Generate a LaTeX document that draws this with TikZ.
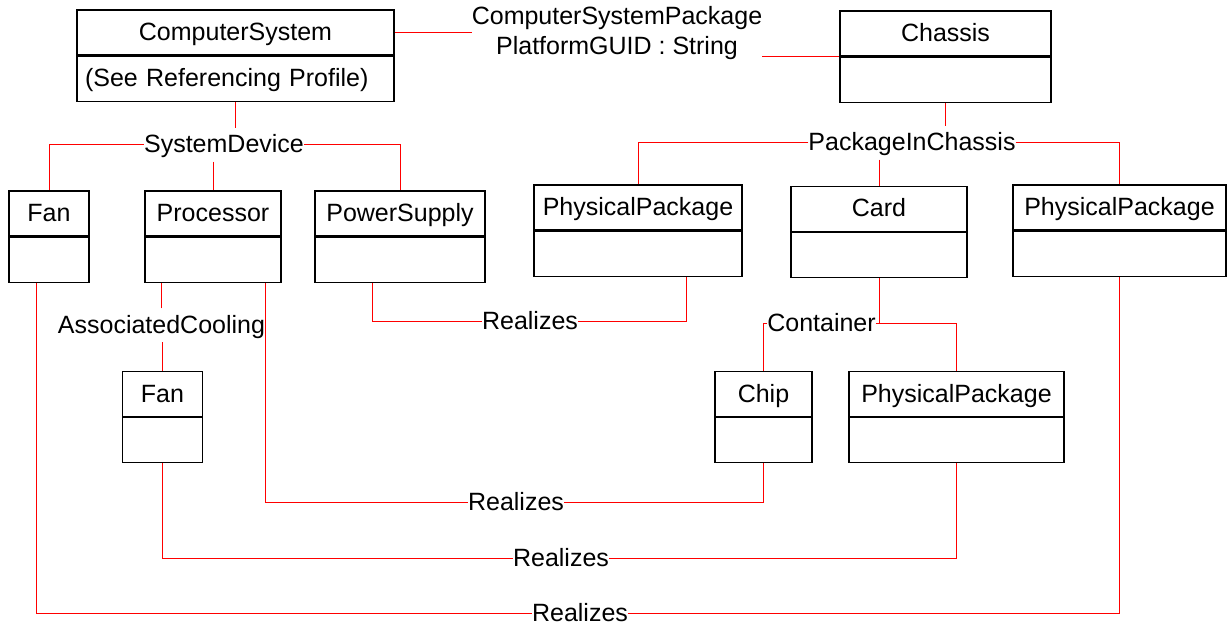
\documentclass[tikz,border=0pt]{standalone}
\usepackage{fontspec}
\setmainfont{Liberation Sans}
\usetikzlibrary{positioning}
\tikzset{
	classhead/.style={
		draw,
		rectangle,
		line width=1.3pt,
		minimum height=45pt,
		inner sep=0pt,
		text height=18pt,
		text depth=2pt,
		font=\fontsize{25}{30}\selectfont
	},
	classbody/.style={
		draw,
		rectangle,
		line width=1.3pt,
		minimum height=45pt,
		inner sep=0pt,
		text height=18pt,
		text depth=2pt,
		font=\fontsize{25}{30}\selectfont
	},
	rolelabel/.style={
		inner xsep=0pt,
		inner ysep=6.5pt,
		text height=18pt,
		text depth=2pt,
		font=\fontsize{25}{30}\selectfont
	},
	assoc/.style={
		draw=red,
		line width=1pt
	}
}

\begin{document}
\begin{tikzpicture}[x=1pt,y=-1pt]
	\useasboundingbox (0,0) rectangle (1227,623);

	% classes
	\draw node[classhead, minimum width=317pt] (cs) at (235.5,32.5) {ComputerSystem};
	\draw node[classbody, below=0pt of cs, text width=301pt, inner xsep=8pt, align=left] (csb) {(See Referencing Profile)};
	\draw node[classhead, minimum width=211pt] (ch) at (945.5,33.5) {Chassis};
	\draw node[classbody, minimum width=211pt, below=0pt of ch] (chb) {};
	\draw node[classhead, minimum width=80pt] (fan1) at (49,213.5) {Fan};
	\draw node[classbody, minimum width=80pt, below=0pt of fan1] (fan1b) {};
	\draw node[classhead, minimum width=136pt] (proc) at (213,213.5) {Processor};
	\draw node[classbody, minimum width=136pt, below=0pt of proc] (procb) {};
	\draw node[classhead, minimum width=170pt] (ps) at (400,213.5) {PowerSupply};
	\draw node[classbody, minimum width=170pt, below=0pt of ps] (psb) {};
	\draw node[classhead, minimum width=208pt] (pp1) at (638,207.5) {PhysicalPackage};
	\draw node[classbody, minimum width=208pt, below=0pt of pp1] (pp1b) {};
	\draw node[classhead, minimum width=176pt] (card) at (879,209) {Card};
	\draw node[classbody, minimum width=176pt, below=0pt of card] (cardb) {};
	\draw node[classhead, minimum width=213pt] (pp2) at (1119.5,207.5) {PhysicalPackage};
	\draw node[classbody, minimum width=213pt, below=0pt of pp2] (pp2b) {};
	\draw node[classhead, minimum width=80pt] (fan2) at (162.5,394) {Fan};
	\draw node[classbody, minimum width=80pt, below=0pt of fan2] (fan2b) {};
	\draw node[classhead, minimum width=97pt] (chip) at (763.5,394) {Chip};
	\draw node[classbody, minimum width=97pt, below=0pt of chip] (chipb) {};
	\draw node[classhead, minimum width=215pt] (pp3) at (956.5,394) {PhysicalPackage};
	\draw node[classbody, minimum width=215pt, below=0pt of pp3] (pp3b) {};

	% association names
	\node[inner sep=0pt, align=center, font=\fontsize{25}{30}\selectfont] (csp) at (617,33.5) {ComputerSystemPackage\\PlatformGUID : String};
	\node[rolelabel] (sd) at (224,145) {SystemDevice};
	\node[rolelabel] (pic) at (912,143) {PackageInChassis};
	\node[rolelabel] (ac) at (161.5,325) {AssociatedCooling};
	\node[rolelabel] (cont) at (821.5,323.5) {Container};
	\node[rolelabel] (r1) at (530,321) {Realizes};
	\node[rolelabel] (r2) at (516,502) {Realizes};
	\node[rolelabel] (r3) at (561,558) {Realizes};
	\node[rolelabel, inner ysep=0pt, text depth=1pt] (r4) at (580,613) {Realizes};

	% connectors
	\draw[assoc] (cs.east) -- (cs.east -| csp.west);
	\draw[assoc] (csp.east |- ch.south) -- (ch.south west);

	\draw[assoc] (csb.south) -- (csb.south |- sd.north);
	\draw[assoc] (sd.west) -| (fan1.north);
	\draw[assoc] (sd.south -| proc.north) -- (proc.north);
	\draw[assoc] (sd.east) -| (ps.north);

	\draw[assoc] (chb.south) -- (chb.south |- pic.north);
	\draw[assoc] (pic.west) -| (pp1.north);
	\draw[assoc] (pic.south -| card.north) -- (card.north);
	\draw[assoc] (pic.east) -| (pp2.north);

	\draw[assoc] (ac.north) -- (ac.north |- procb.south);
	\draw[assoc] (fan2.north) -- (fan2.north |- ac.south);

	\draw[assoc] (cardb.south) |- (cont.east -| pp3.north) -- (pp3.north);
	\draw[assoc] (cont.east) -- (cont.east -| cardb.south);
	\draw[assoc] (cont.west) -| (chip.north);

	\draw[assoc] ([xshift=-28pt]psb.south) |- (r1.west);
	\draw[assoc] (r1.east) -| ([xshift=48pt]pp1b.south);
	\draw[assoc] ([xshift=52pt]procb.south) |- (r2.west);
	\draw[assoc] (r2.east) -| (chipb.south);
	\draw[assoc] (fan2b.south) |- (r3.west);
	\draw[assoc] (r3.east) -| (pp3b.south);
	\draw[assoc] ([xshift=-13pt]fan1b.south) |- (r4.west);
	\draw[assoc] (r4.east) -| (pp2b.south);
\end{tikzpicture}
\end{document}
